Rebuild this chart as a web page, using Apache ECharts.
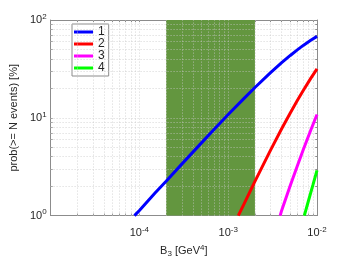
<!DOCTYPE html>
<html>
<head>
<meta charset="utf-8">
<script src="https://cdn.jsdelivr.net/npm/echarts@6/dist/echarts.min.js"></script>
<style>html,body{margin:0;padding:0;background:#fff}#c{width:350px;height:263px}</style>
</head>
<body>
<div id="c"></div>
<script>
// Data
const names = ['1', '2', '3', '4'];
const colors = ['#0000ff', '#ff0000', '#ff00ff', '#00ff00'];
const x1 = [8.8e-5, 1e-4, 1.5e-4, 2e-4, 3e-4, 5e-4, 7e-4, 1e-3, 1.5e-3, 2e-3, 3e-3, 4e-3, 5e-3, 6e-3, 7e-3, 8.5e-3, 1e-2];
const y1 = [1.0, 1.13, 1.70, 2.25, 3.36, 5.54, 7.67, 10.8, 15.7, 20.4, 29.0, 36.6, 43.4, 49.5, 55.0, 62.1, 68.0];
const x2 = [1.3e-3, 1.5e-3, 2e-3, 3e-3, 4e-3, 5e-3, 6e-3, 7e-3, 8.5e-3, 1e-2];
const y2 = [1.0, 1.30, 2.24, 4.67, 7.72, 11.2, 15.0, 19.0, 25.3, 31.6];
const x3 = [3.85e-3, 4e-3, 5e-3, 6e-3, 7e-3, 8.5e-3, 1e-2];
const y3 = [1.0, 1.13, 2.03, 3.22, 4.71, 7.47, 10.8];
const x4 = [7.2e-3, 8e-3, 9e-3, 1e-2];
const y4 = [1.0, 1.41, 2.06, 2.9];
const band = [2e-4, 2e-3];
const xRange = [1e-5, 1e-2];
const yRange = [1, 100];
const xLabelExps = [-4, -3, -2];
const yLabelExps = [0, 1, 2];

function logTicks(lo, hi) {
  const out = [];
  const d0 = Math.round(Math.log10(lo)), d1 = Math.round(Math.log10(hi));
  for (let d = d0; d < d1; d++) {
    for (let m = 1; m <= 9; m++) {
      const v = m * Math.pow(10, d);
      if (v >= lo * 1.0001 && v <= hi / 1.0001) out.push(v);
    }
  }
  return out;
}
const xGrid = logTicks(xRange[0], xRange[1]);
const yGrid = logTicks(yRange[0], yRange[1]);
const xTickAll = logTicks(xRange[0], xRange[1]).concat([xRange[0], xRange[1]]);
const yTickAll = logTicks(yRange[0], yRange[1]).concat([yRange[0], yRange[1]]);

const font = 'Liberation Sans, Arial, Helvetica, sans-serif';
const txt = '#262626';
const boxColor = '#8c8c8c';
const rich = {
  b: {fontSize: 11, fontFamily: font, color: txt},
  s: {fontSize: 8, fontFamily: font, color: txt, padding: [0, 0, 7, 0]}
};
function expLabel(allowed) {
  return function (v) {
    const e = Math.round(Math.log10(v));
    if (allowed.indexOf(e) < 0) return '';
    return '{b|10}{s|' + e + '}';
  };
}

function pairs(xs, ys) { return xs.map((x, i) => [x, ys[i]]); }

const xs = [x1, x2, x3, x4], ys = [y1, y2, y3, y4];
const lineSeries = names.map((n, i) => ({
  name: n, type: 'line', data: pairs(xs[i], ys[i]), showSymbol: false, smooth: false,
  lineStyle: {color: colors[i], width: 3}, itemStyle: {color: colors[i]}, z: 5, clip: true
}));

const gridStyle = {color: 'rgba(200,200,200,0.75)', type: [1, 2], width: 1};
const gridLines = xGrid.map(v => [{coord: [v, yRange[0]]}, {coord: [v, yRange[1]]}])
  .concat(yGrid.map(v => [{coord: [xRange[0], v]}, {coord: [xRange[1], v]}]));

const option = {
  animation: false,
  backgroundColor: '#fff',
  grid: {left: 45, top: 20, right: 33, bottom: 45},
  legend: {
    data: names.map((n, i) => ({name: n, icon: 'rect', itemStyle: {color: colors[i]}})),
    orient: 'vertical', left: 72, top: 24,
    itemWidth: 19, itemHeight: 3, itemGap: 0,
    padding: [2, 4, 2, 2],
    backgroundColor: '#fff', borderColor: '#8c8c8c', borderWidth: 1,
    textStyle: {fontSize: 12, lineHeight: 12, fontFamily: font, color: txt},
    selectedMode: false
  },
  xAxis: [{
    type: 'log', logBase: 10, min: xRange[0], max: xRange[1], position: 'bottom',
    axisLine: {show: true, lineStyle: {color: boxColor}},
    axisTick: {show: true, inside: true, length: 2, customValues: xTickAll, lineStyle: {color: boxColor}},
    axisLabel: {formatter: expLabel(xLabelExps), rich: rich, margin: 10},
    splitLine: {show: false}, minorTick: {show: false},
    name: '{a|B}{sub|3}{a| [GeV}{sup|4}{a|]}', nameLocation: 'middle', nameGap: 19,
    nameTextStyle: {rich: {
      a: {fontSize: 11, fontFamily: font, color: txt},
      sub: {fontSize: 8, fontFamily: font, color: txt, padding: [6, 0, 0, 0]},
      sup: {fontSize: 8, fontFamily: font, color: txt, padding: [0, 0, 7, 0]}
    }}
  }, {
    type: 'log', logBase: 10, min: xRange[0], max: xRange[1], position: 'top',
    axisLine: {show: true, lineStyle: {color: boxColor}},
    axisTick: {show: true, inside: true, length: 2, customValues: xTickAll, lineStyle: {color: boxColor}},
    axisLabel: {show: false}, splitLine: {show: false}
  }],
  yAxis: [{
    type: 'log', logBase: 10, min: yRange[0], max: yRange[1], position: 'left',
    axisLine: {show: true, lineStyle: {color: boxColor}},
    axisTick: {show: true, inside: true, length: 2, customValues: yTickAll, lineStyle: {color: boxColor}},
    axisLabel: {formatter: expLabel(yLabelExps), rich: rich, margin: 4},
    splitLine: {show: false}, minorTick: {show: false},
    name: 'prob(>= N events) [%]', nameLocation: 'middle', nameGap: 26,
    nameTextStyle: {fontSize: 11, fontFamily: font, color: txt}
  }, {
    type: 'log', logBase: 10, min: yRange[0], max: yRange[1], position: 'right',
    axisLine: {show: true, lineStyle: {color: boxColor}},
    axisTick: {show: true, inside: true, length: 2, customValues: yTickAll, lineStyle: {color: boxColor}},
    axisLabel: {show: false}, splitLine: {show: false}
  }],
  series: [{
    type: 'line', data: [], z: 1, silent: true,
    markArea: {silent: true, itemStyle: {color: '#63963f', opacity: 1},
      data: [[{xAxis: band[0]}, {xAxis: band[1]}]]}
  }, {
    type: 'line', data: [], z: 2, silent: true,
    markLine: {silent: true, symbol: 'none', label: {show: false}, animation: false,
      lineStyle: gridStyle, data: gridLines}
  }].concat(lineSeries)
};

const chart = echarts.init(document.getElementById('c'), null, {renderer: 'canvas'});
chart.setOption(option);
</script>
</body>
</html>
